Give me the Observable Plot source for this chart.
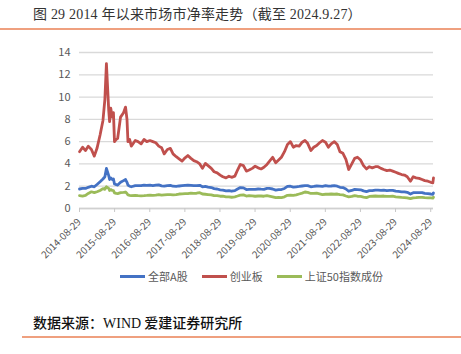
<!DOCTYPE html>
<html><head><meta charset="utf-8">
<script src="https://cdn.jsdelivr.net/npm/d3@7"></script>
<script src="https://cdn.jsdelivr.net/npm/@observablehq/plot@0.6"></script>
<style>
body{margin:0;background:#fff;}
#wrap{position:relative;width:461px;height:354px;overflow:hidden;background:#fff;font-family:"Noto Sans CJK SC",sans-serif;}
#title{position:absolute;left:33px;top:3px;font-size:14px;font-family:"Liberation Serif","Noto Sans CJK SC",serif;color:#333;white-space:nowrap;letter-spacing:0.2px;}
.rule{position:absolute;height:1.5px;background:#efa07f;}
#chart{position:absolute;left:0;top:40px;}
#legend{position:absolute;left:120px;top:268px;display:flex;align-items:center;font-size:11px;color:#595959;white-space:nowrap;}
#legend .item{display:flex;align-items:center;margin-right:14px;}
#legend .sw{width:25px;height:3px;margin-right:3px;}
#source{position:absolute;left:33px;top:312px;font-size:14px;color:#111;white-space:nowrap;font-weight:500;}
#source .w{font-family:"Liberation Serif",serif;font-weight:400;}
</style></head>
<body>
<div id="wrap">
  <div id="title"></div>
  <div class="rule" style="left:0;width:461px;top:28px"></div>
  <div id="chart"></div>
  <div id="legend"></div>
  <div id="source">数据来源：<span class="w">WIND</span> 爱建证券研究所</div>
  <div class="rule" style="left:22px;width:439px;top:336px"></div>
</div>
<script>
const titleText = "图 29 2014 年以来市场市净率走势（截至 2024.9.27）";
const seriesNames = ["全部A股", "创业板", "上证50指数成份"];
const seriesColors = ["#4472c4", "#c0504d", "#9bbb59"];
const yTicks = [0, 2, 4, 6, 8, 10, 12, 14];
const xTicks = ["2014-08-29","2015-08-29","2016-08-29","2017-08-29","2018-08-29","2019-08-29","2020-08-29","2021-08-29","2022-08-29","2023-08-29","2024-08-29"];

const dates = [
"2014-08-29","2014-09-30","2014-10-31","2014-11-28","2014-12-31","2015-01-30","2015-02-27","2015-03-31","2015-04-30","2015-05-20",
"2015-06-05","2015-06-29","2015-07-08","2015-07-20","2015-08-05","2015-08-17","2015-08-28","2015-09-15","2015-09-30","2015-10-30",
"2015-11-30","2015-12-21","2016-01-05","2016-01-15","2016-02-01","2016-02-19","2016-03-31",
"2016-04-29","2016-05-31","2016-06-30","2016-07-29","2016-08-31","2016-09-30","2016-10-31","2016-11-30","2016-12-30",
"2017-01-26","2017-02-28","2017-03-31","2017-04-28","2017-05-31","2017-06-30","2017-07-31","2017-08-31","2017-09-29","2017-10-31","2017-11-30","2017-12-29",
"2018-01-31","2018-02-28","2018-03-30","2018-04-27","2018-05-31","2018-06-29","2018-07-31","2018-08-31","2018-09-28","2018-10-31","2018-11-30","2018-12-28",
"2019-01-31","2019-02-28","2019-03-29","2019-04-30","2019-05-31","2019-06-28","2019-07-31","2019-08-30","2019-09-30","2019-10-31","2019-11-29","2019-12-31",
"2020-01-23","2020-02-28","2020-03-31","2020-04-30","2020-05-29","2020-06-30","2020-07-31","2020-08-31","2020-09-30","2020-10-30","2020-11-30","2020-12-31",
"2021-01-29","2021-02-26","2021-03-31","2021-04-30","2021-05-31","2021-06-30","2021-07-30","2021-08-31","2021-09-30","2021-10-29","2021-11-30","2021-12-31",
"2022-01-28","2022-02-28","2022-03-31","2022-04-29","2022-05-31","2022-06-30","2022-07-29","2022-08-31","2022-09-30","2022-10-31","2022-11-30","2022-12-30",
"2023-01-31","2023-02-28","2023-03-31","2023-04-28","2023-05-31","2023-06-30","2023-07-31","2023-08-31","2023-09-28","2023-10-31","2023-11-30","2023-12-29",
"2024-01-31","2024-02-29","2024-03-29","2024-04-30","2024-05-31","2024-06-28","2024-07-31","2024-08-30","2024-09-20","2024-09-27"
];

const allA = [
1.75,1.8,1.8,1.9,2.0,1.95,2.15,2.4,2.65,2.85,
3.6,2.95,2.6,2.75,2.6,2.65,2.2,2.15,2.1,2.35,
2.5,2.6,2.35,2.1,2.0,1.95,2.05,
2.05,2.05,2.1,2.08,2.1,2.06,2.1,2.12,2.03,
2.0,2.05,2.08,2.0,1.98,2.02,2.05,2.08,2.1,2.08,2.05,2.06,
2.08,1.95,1.98,1.92,1.88,1.78,1.75,1.68,1.65,1.58,1.6,1.55,
1.6,1.75,1.88,1.85,1.7,1.72,1.72,1.72,1.75,1.73,1.72,1.8,
1.8,1.75,1.65,1.7,1.7,1.8,1.98,2.0,1.92,1.95,1.98,2.02,
2.05,2.05,1.95,1.98,2.02,2.0,1.98,2.05,2.0,2.02,2.05,2.0,
1.9,1.88,1.75,1.55,1.62,1.72,1.7,1.68,1.58,1.52,1.6,1.6,
1.65,1.65,1.63,1.65,1.6,1.62,1.62,1.55,1.53,1.5,1.5,1.45,
1.3,1.42,1.42,1.43,1.42,1.35,1.33,1.3,1.27,1.4
];

const chinext = [
5.1,5.5,5.2,5.6,5.3,4.7,5.4,6.6,7.9,9.8,
13.0,8.8,7.8,9.0,8.2,8.6,6.0,6.2,6.3,8.2,
8.6,9.1,8.0,6.0,6.2,5.6,6.1,
6.0,5.8,6.2,6.0,6.1,6.0,5.9,5.6,5.45,
4.9,5.3,5.4,4.9,4.65,4.45,4.25,4.55,4.75,4.5,4.3,4.2,
4.0,3.6,4.05,3.85,3.6,3.3,3.2,3.0,2.85,2.75,2.9,2.8,
2.9,3.45,3.95,3.85,3.35,3.45,3.6,3.8,3.65,3.55,3.7,3.95,
4.2,4.6,4.1,4.35,4.6,5.1,5.75,6.0,5.5,5.65,5.6,5.95,
6.1,5.85,5.2,5.5,5.65,5.9,6.1,5.95,5.5,5.8,6.0,5.75,
5.1,4.95,4.4,3.5,4.0,4.5,4.6,4.35,3.85,3.55,3.75,3.65,
3.75,3.75,3.6,3.5,3.4,3.45,3.35,3.25,3.15,3.05,3.0,2.85,
2.45,2.85,2.75,2.7,2.6,2.5,2.45,2.35,2.3,2.75
];

const sse50 = [
1.15,1.12,1.18,1.35,1.5,1.42,1.5,1.62,1.78,1.72,
1.95,1.8,1.62,1.7,1.62,1.6,1.4,1.35,1.33,1.42,
1.45,1.48,1.35,1.22,1.18,1.15,1.17,
1.15,1.14,1.15,1.17,1.2,1.18,1.2,1.25,1.2,
1.22,1.25,1.24,1.22,1.25,1.3,1.32,1.33,1.33,1.38,1.36,1.37,
1.42,1.3,1.28,1.25,1.22,1.15,1.15,1.1,1.1,1.05,1.04,1.01,
1.05,1.12,1.2,1.22,1.12,1.15,1.14,1.1,1.12,1.12,1.1,1.15,
1.12,1.05,0.98,1.0,0.98,1.05,1.18,1.2,1.18,1.22,1.3,1.38,
1.48,1.45,1.35,1.35,1.38,1.32,1.25,1.28,1.28,1.3,1.28,1.3,
1.25,1.22,1.12,1.05,1.08,1.15,1.1,1.08,1.02,0.98,1.08,1.1,
1.12,1.1,1.1,1.12,1.08,1.08,1.1,1.05,1.03,1.0,0.98,0.95,
0.88,0.95,0.97,1.0,0.99,0.97,0.96,0.95,0.93,1.02
];

const seriesValues = [allA, chinext, sse50];

document.getElementById("title").textContent = titleText;

const parse = d3.utcParse("%Y-%m-%d");
const rows = [];
seriesNames.forEach((name, si) => {
  dates.forEach((d, i) => rows.push({date: parse(d), value: seriesValues[si][i], series: name}));
});

const chart = Plot.plot({
  width: 461,
  height: 230,
  marginLeft: 79,
  marginRight: 28,
  marginTop: 12,
  marginBottom: 62,
  style: {fontFamily: "'Noto Sans CJK SC', sans-serif", fontSize: "11px", color: "#595959", background: "#fff"},
  x: {type: "utc", domain: [parse(dates[0]), parse(dates[dates.length - 1])]},
  y: {domain: [0, 14]},
  color: {domain: seriesNames, range: seriesColors},
  marks: [
    Plot.gridY(yTicks, {stroke: "#d9d9d9", strokeOpacity: 1, strokeWidth: 1.3}),
    Plot.ruleY([0], {stroke: "#d0d0d0", strokeWidth: 1.3}),
    Plot.axisY(yTicks, {tickSize: 0, tickPadding: 9, label: null, fontSize: 11}),
    Plot.axisX(xTicks.map(parse), {tickSize: 4, tickRotate: -45, tickFormat: d3.utcFormat("%Y-%m-%d"), label: null, stroke: "#c8c8c8", fontSize: 10}),
    Plot.lineY(rows, {x: "date", y: "value", z: "series", stroke: "series", strokeWidth: 2.8})
  ]
});
document.getElementById("chart").appendChild(chart);

const legend = document.getElementById("legend");
seriesNames.forEach((name, i) => {
  const item = document.createElement("div");
  item.className = "item";
  const sw = document.createElement("span");
  sw.className = "sw";
  sw.style.background = seriesColors[i];
  const t = document.createElement("span");
  t.textContent = name;
  item.appendChild(sw);
  item.appendChild(t);
  legend.appendChild(item);
});
</script>
</body></html>
